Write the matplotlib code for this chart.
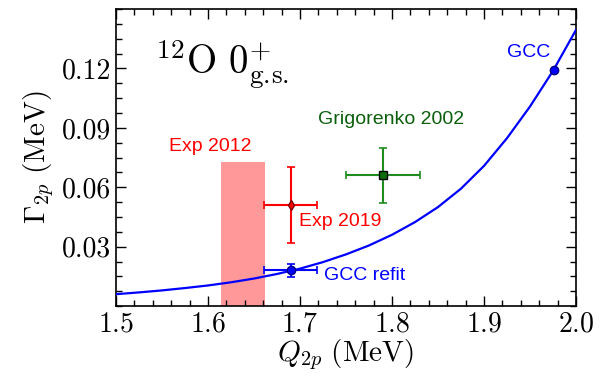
import numpy as np
import matplotlib
matplotlib.use("Agg")
import matplotlib.pyplot as plt
from matplotlib.ticker import MultipleLocator

plt.rcParams['mathtext.fontset'] = 'cm'
plt.rcParams['font.family'] = 'serif'
plt.rcParams['font.serif'] = ['cmr10']
plt.rcParams['axes.formatter.use_mathtext'] = True

# GCC curve, Gamma_2p vs Q_2p
curve_q = [1.500, 1.525, 1.550, 1.575, 1.600, 1.625, 1.650, 1.675, 1.700,
           1.725, 1.750, 1.775, 1.800, 1.825, 1.850, 1.875, 1.900, 1.925,
           1.950, 1.975, 2.000]
curve_g = [0.0060, 0.0069, 0.0079, 0.0091, 0.0104, 0.0120, 0.0139, 0.0162,
           0.0189, 0.0222, 0.0261, 0.0306, 0.0360, 0.0424, 0.0500, 0.0593,
           0.0708, 0.0848, 0.1008, 0.1188, 0.1395]

# GCC point
gcc_q, gcc_g = 1.976, 0.119
# GCC refit point
refit_q, refit_g, refit_qerr, refit_gerr = 1.690, 0.018, 0.029, 0.0034
# Exp 2019
e19_q, e19_g, e19_qerr, e19_gerr = 1.690, 0.051, 0.029, 0.019
# Grigorenko 2002
gr_q, gr_g, gr_qerr, gr_gerr = 1.79, 0.066, 0.040, 0.014
# Exp 2012 band (Q range, upper limit on width)
e12_qlo, e12_qhi, e12_gmax = 1.614, 1.662, 0.0725

sans = ['Liberation Sans', 'DejaVu Sans']

fig = plt.figure(figsize=(6.07, 3.76), dpi=100)
ax = fig.add_axes([0.191, 0.186, 0.758, 0.79])

ax.fill_between([e12_qlo, e12_qhi], 0, e12_gmax, color='red', alpha=0.4,
                linewidth=0, zorder=1)
ax.plot(curve_q, curve_g, color='blue', lw=1.6, zorder=3)
ax.plot([gcc_q], [gcc_g], 'o', color='blue', mec='#000080', ms=6, zorder=4)

ax.errorbar(refit_q, refit_g, xerr=refit_qerr, yerr=refit_gerr, fmt='o',
            color='blue', mfc='blue', mec='#000080', ms=6, capsize=3,
            elinewidth=1.5, capthick=1.2, zorder=4)
ax.errorbar(e19_q, e19_g, xerr=e19_qerr, yerr=e19_gerr, fmt='d',
            color='red', mfc='red', mec='#800000', ms=5, capsize=3,
            elinewidth=1.5, capthick=1.2, zorder=4)
ax.errorbar(gr_q, gr_g, xerr=gr_qerr, yerr=gr_gerr, fmt='s',
            color='#1e8c1e', mfc='#0a6e0a', mec='black', ms=6, capsize=3,
            elinewidth=1.5, capthick=1.2, zorder=4)

ax.text(1.948, 0.128, 'GCC', color='blue', fontsize=14, family=sans,
        ha='center', va='center')
ax.text(1.7196, 0.094, 'Grigorenko 2002', color='#0b5e0b', fontsize=14,
        family=sans, ha='left', va='center')
ax.text(1.603, 0.0805, 'Exp 2012', color='red', fontsize=14, family=sans,
        ha='center', va='center')
ax.text(1.699, 0.0426, 'Exp 2019', color='red', fontsize=14, family=sans,
        ha='left', va='center')
ax.text(1.726, 0.0155, 'GCC refit', color='blue', fontsize=14, family=sans,
        ha='left', va='center')

ax.text(0.085, 0.78, r'$^{12}\mathrm{O}\ 0^{+}_{\mathrm{g.\!s.}}$',
        transform=ax.transAxes, fontsize=28, va='baseline', ha='left')

ax.set_xlim(1.5, 2.0)
ax.set_ylim(0, 0.15)
ax.xaxis.set_major_locator(MultipleLocator(0.1))
ax.xaxis.set_minor_locator(MultipleLocator(0.02))
ax.set_yticks([0.03, 0.06, 0.09, 0.12])
ax.set_yticklabels(['0.03', '0.06', '0.09', '0.12'])
ax.yaxis.set_minor_locator(MultipleLocator(0.0075))
ax.tick_params(which='both', direction='in', top=True, right=True,
               labelsize=20, width=1)
ax.tick_params(which='major', length=7)
ax.tick_params(which='minor', length=4)
for s in ax.spines.values():
    s.set_linewidth(1.2)

ax.set_xlabel(r'$Q_{2p}\ \mathrm{(MeV)}$', fontsize=21, labelpad=0)
ax.set_ylabel(r'$\Gamma_{2p}\ \mathrm{(MeV)}$', fontsize=21, labelpad=4)

fig.savefig('out.png', dpi=100)
